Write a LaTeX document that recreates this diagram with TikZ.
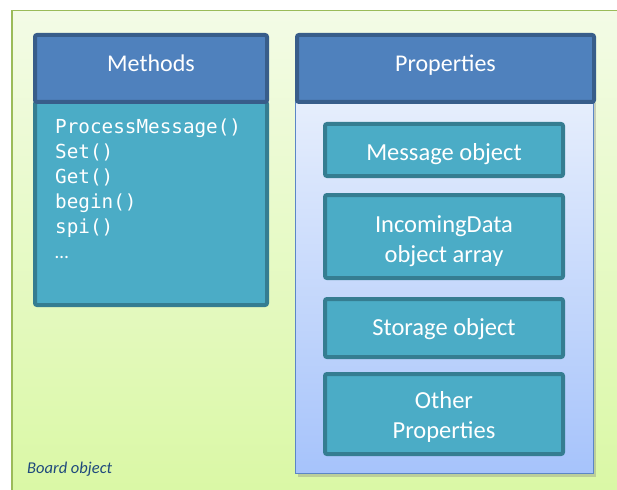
\documentclass[tikz,border=0pt]{standalone}
\usepackage{fontspec}
\setmainfont{Carlito}
\setmonofont{DejaVu Sans Mono}
\usetikzlibrary{shadows}
\definecolor{boardborder}{HTML}{9BBB59}
\definecolor{boardtop}{HTML}{F3FBE6}
\definecolor{boardbot}{HTML}{D8F8A0}
\definecolor{headfill}{HTML}{4F81BD}
\definecolor{headline}{HTML}{385D8A}
\definecolor{tealfill}{HTML}{4BACC6}
\definecolor{tealline}{HTML}{357D91}
\definecolor{proptop}{HTML}{E6EEFC}
\definecolor{propbot}{HTML}{A6C3FB}
\definecolor{propline}{HTML}{5B86C6}
\definecolor{labelblue}{HTML}{1F497D}
\tikzset{
  header/.style={draw=headline, fill=headfill, line width=4pt, rounded corners=2pt,
    text=white, font=\fontsize{24}{28}\selectfont, inner sep=0pt, text height=12pt, text depth=5pt},
  tealbox/.style={draw=tealline, fill=tealfill, line width=4pt, rounded corners=2pt,
    text=white, font=\fontsize{24.5}{30}\selectfont, align=center, inner sep=0pt},
  propbody/.style={draw=propline, line width=1pt, top color=proptop, bottom color=propbot,
    inner sep=0pt, drop shadow={shadow xshift=2pt, shadow yshift=-3pt, opacity=0.35}},
}
\begin{document}
\begin{tikzpicture}[x=1pt,y=-1pt]
\useasboundingbox (0,0) rectangle (617,489);
\clip (0,0) rectangle (617,489);
\fill[white] (0,0) rectangle (617,489);
% board
\node[draw=boardborder, line width=1.5pt, top color=boardtop, bottom color=boardbot,
  minimum width=660pt, minimum height=520pt, anchor=north west, inner sep=0pt] (board) at (11,10) {};
\node[anchor=west, inner sep=0pt, text=labelblue, font=\fontsize{16.5}{19}\selectfont\itshape] (boardlbl) at (27,469) {Board object};
% methods
\node[tealbox, minimum width=232pt, minimum height=203pt, anchor=north west] (mbody) at (33,100) {};
\node[header, minimum width=232pt, minimum height=67pt, anchor=north west] (mhead) at (33,33) {Methods};
\node[anchor=north west, text=white, align=left, inner sep=0pt,
  font=\fontsize{19.3}{25}\ttfamily] (mtext) at (55,119)
  {ProcessMessage()\\Set()\\Get()\\begin()\\spi()\\\rmfamily …};
% properties
\node[propbody, minimum width=298pt, minimum height=373pt, anchor=north west] (pbody) at (295,100) {};
\node[header, minimum width=297pt, minimum height=67pt, anchor=north west] (phead) at (295,33) {Properties};
\node[tealbox, minimum width=238pt, minimum height=52pt, text height=20pt, text depth=0pt] (msg) at (444,150) {Message object};
\node[tealbox, minimum width=238pt, minimum height=83pt, text height=51pt, text depth=0pt] (inc) at (444,236.5) {IncomingData\\object array};
\node[tealbox, minimum width=238pt, minimum height=58pt, text height=14pt, text depth=0pt] (sto) at (444,328) {Storage object};
\node[tealbox, minimum width=238pt, minimum height=80pt, text height=48pt, text depth=0pt] (oth) at (444,414) {Other\\Properties};
\end{tikzpicture}
\end{document}
